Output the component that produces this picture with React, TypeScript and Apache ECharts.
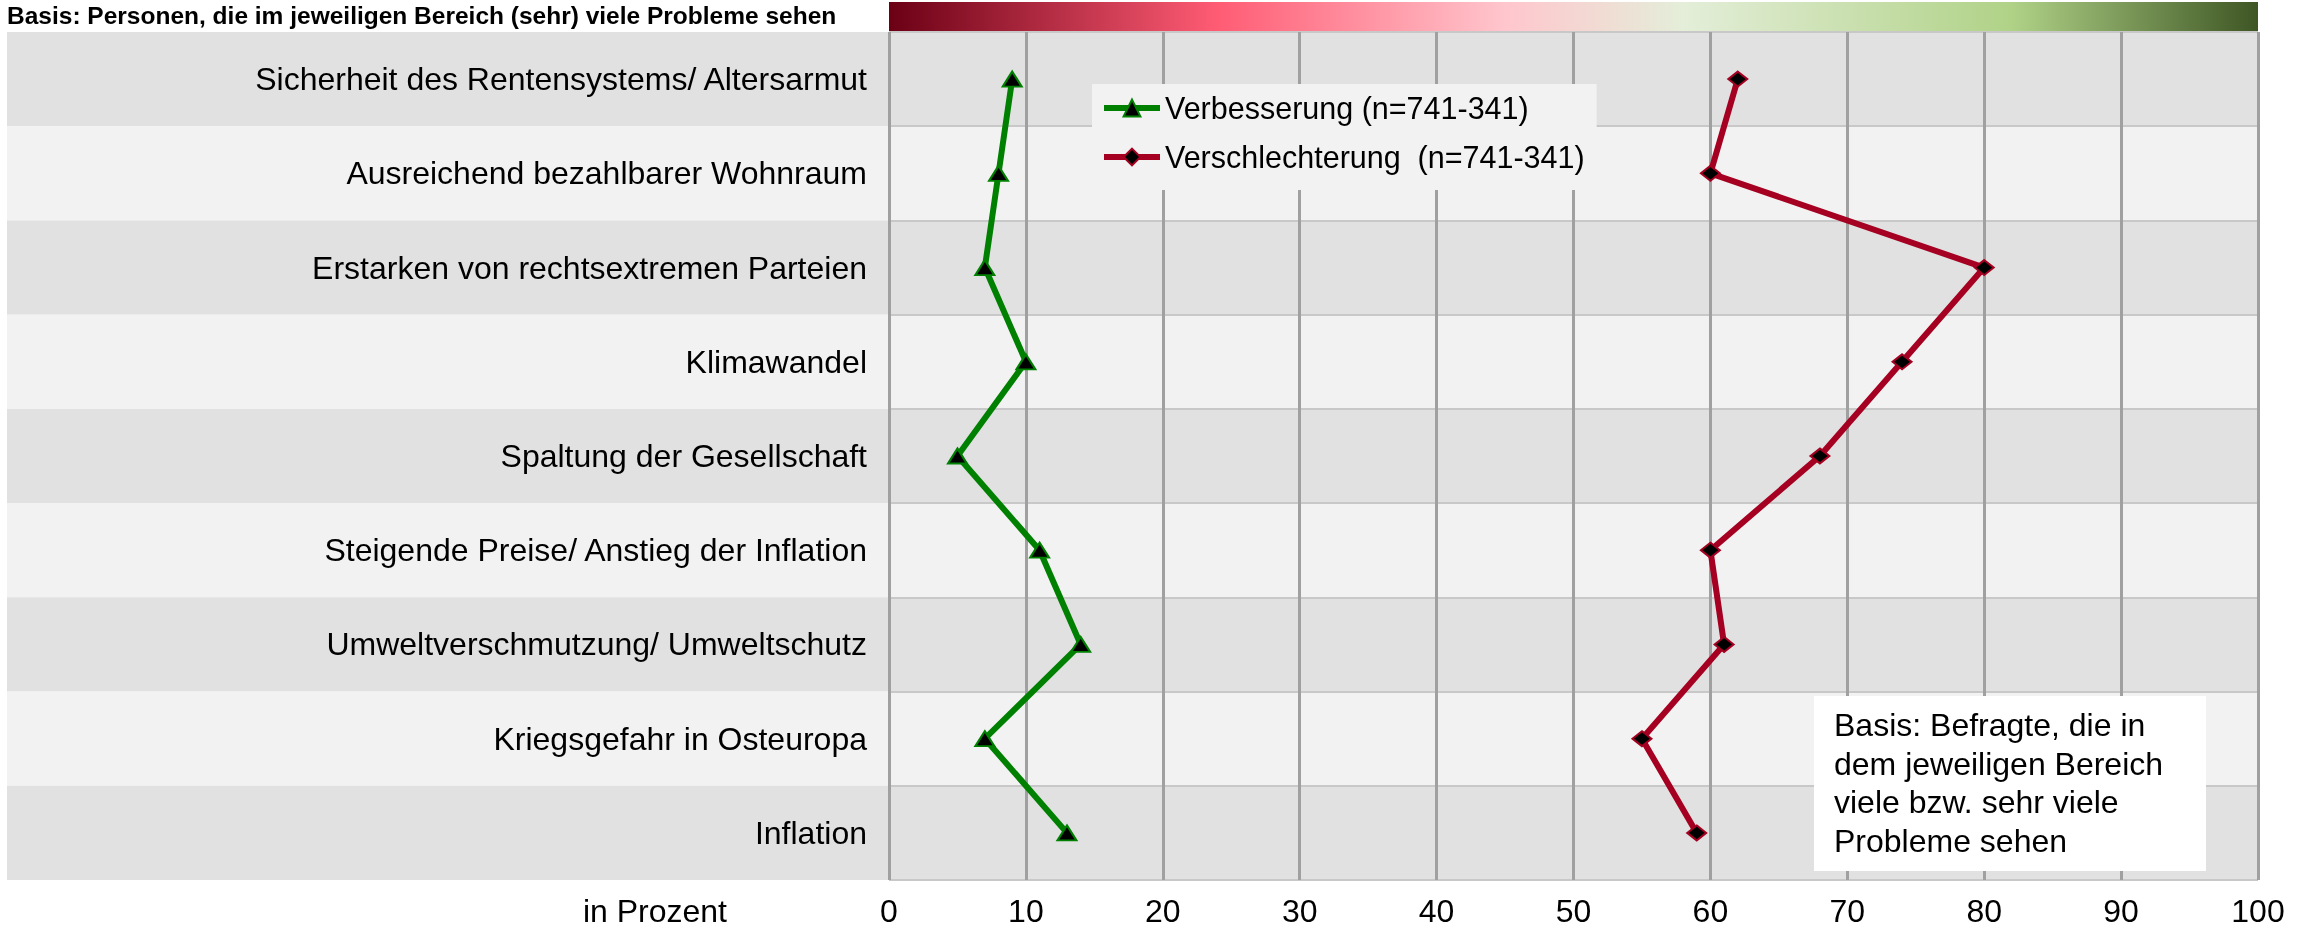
import React, { useEffect, useRef } from "react";
import * as echarts from "echarts";

const categories = [
  "Sicherheit des Rentensystems/ Altersarmut",
  "Ausreichend bezahlbarer Wohnraum",
  "Erstarken von rechtsextremen Parteien",
  "Klimawandel",
  "Spaltung der Gesellschaft",
  "Steigende Preise/ Anstieg der Inflation",
  "Umweltverschmutzung/ Umweltschutz",
  "Kriegsgefahr in Osteuropa",
  "Inflation",
];

const verbesserung = [9, 8, 7, 10, 5, 11, 14, 7, 13];
const verschlechterung = [62, 60, 80, 74, 68, 60, 61, 55, 59];

const seriesNames = ["Verbesserung (n=741-341)", "Verschlechterung  (n=741-341)"];

const headerText = "Basis: Personen, die im jeweiligen Bereich (sehr) viele Probleme sehen";
const axisTitle = "in Prozent";
const noteText = "Basis: Befragte, die in\ndem jeweiligen Bereich\nviele bzw. sehr viele\nProbleme sehen";

const FONT = "'Liberation Sans', Arial, sans-serif";
const BAND_COLORS = ["#e0e1e0", "#f2f2f2"];
const GREEN = "#008000";
const RED = "#a50021";

export default function App() {
  const ref = useRef<HTMLDivElement>(null);

  useEffect(() => {
    if (!ref.current) return;
    const chart = echarts.init(ref.current, null, { renderer: "svg" });

    const option: any = {
      animation: false,
      textStyle: { fontFamily: FONT },
      grid: [
        { left: 7, right: 2313 - 889, top: 32, bottom: 52, show: false },
        { left: 889, right: 55, top: 32, bottom: 52, show: false },
      ],
      xAxis: [
        {
          gridIndex: 0,
          type: "value",
          min: 0,
          max: 1,
          show: false,
        },
        {
          gridIndex: 1,
          type: "value",
          min: 0,
          max: 100,
          interval: 10,
          z: 2,
          axisLine: { show: false },
          axisTick: { show: false },
          splitLine: { show: true, lineStyle: { color: "#a0a0a0", width: 3 } },
          axisLabel: {
            fontSize: 32,
            color: "#000",
            margin: 15,
            fontFamily: FONT,
          },
        },
      ],
      yAxis: [
        {
          gridIndex: 0,
          type: "category",
          data: categories,
          inverse: true,
          z: 0,
          axisLine: { show: false },
          axisTick: { show: false },
          axisLabel: { show: false },
          splitLine: { show: false },
          splitArea: { show: true, areaStyle: { color: BAND_COLORS } },
        },
        {
          gridIndex: 1,
          type: "category",
          data: categories,
          inverse: true,
          z: 0,
          axisLine: { show: false },
          axisTick: { show: false },
          axisLabel: {
            fontSize: 32,
            color: "#000",
            margin: 22,
            fontFamily: FONT,
          },
          splitLine: { show: true, lineStyle: { color: "#c8c8c8", width: 2 } },
          splitArea: { show: true, areaStyle: { color: BAND_COLORS } },
        },
      ],
      legend: {
        orient: "vertical",
        left: 1092,
        top: 84,
        backgroundColor: "#f2f2f2",
        padding: [7, 12, 16, 9],
        itemGap: 15,
        itemWidth: 56,
        itemHeight: 21,
        lineStyle: { width: 6 },
        textStyle: { fontSize: 30.5, lineHeight: 34, color: "#000", fontFamily: FONT },
        data: [
          {
            name: seriesNames[0],
            lineStyle: { width: 6, color: GREEN },
            itemStyle: { color: "#000", borderColor: GREEN, borderWidth: 2 },
          },
          {
            name: seriesNames[1],
            lineStyle: { width: 6, color: RED },
            itemStyle: { color: "#000", borderColor: RED, borderWidth: 2 },
          },
        ],
      },
      series: [
        {
          name: seriesNames[0],
          type: "line",
          xAxisIndex: 1,
          yAxisIndex: 1,
          data: verbesserung.map((v, i) => [v, categories[i]]),
          symbol: "triangle",
          symbolSize: [19, 15],
          lineStyle: { color: GREEN, width: 6 },
          itemStyle: { color: "#000", borderColor: GREEN, borderWidth: 2 },
          z: 5,
        },
        {
          name: seriesNames[1],
          type: "line",
          xAxisIndex: 1,
          yAxisIndex: 1,
          data: verschlechterung.map((v, i) => [v, categories[i]]),
          symbol: "diamond",
          symbolSize: [19, 15],
          lineStyle: { color: RED, width: 6 },
          itemStyle: { color: "#000", borderColor: RED, borderWidth: 2 },
          z: 5,
        },
      ],
      graphic: [
        {
          type: "text",
          left: 7,
          top: 3,
          style: {
            text: headerText,
            fontSize: 24.5,
            fontWeight: "bold",
            fontFamily: FONT,
            fill: "#000",
          },
        },
        {
          type: "rect",
          shape: { x: 889, y: 2, width: 1369, height: 29 },
          style: {
            fill: new echarts.graphic.LinearGradient(0, 0, 1, 0, [
              { offset: 0, color: "#6b0015" },
              { offset: 0.24, color: "#ff5c74" },
              { offset: 0.45, color: "#ffc6cd" },
              { offset: 0.58, color: "#e4eed9" },
              { offset: 0.82, color: "#b0d287" },
              { offset: 1, color: "#3e5624" },
            ]),
          },
        },
        {
          type: "text",
          x: 727,
          y: 911,
          style: {
            text: axisTitle,
            fontSize: 32,
            fontFamily: FONT,
            fill: "#000",
            textAlign: "right",
            textVerticalAlign: "middle",
          },
        },
        {
          type: "rect",
          z: 10,
          shape: { x: 1814, y: 696, width: 392, height: 175 },
          style: { fill: "#ffffff" },
        },
        {
          type: "text",
          z: 11,
          x: 1834,
          y: 706,
          style: {
            text: noteText,
            fontSize: 32,
            lineHeight: 38.5,
            fontFamily: FONT,
            fill: "#000",
            textVerticalAlign: "top",
          },
        },
      ],
    };

    chart.setOption(option);
    return () => chart.dispose();
  }, []);

  return (
    <div
      ref={ref}
      style={{ position: "fixed", left: 0, top: 0, width: 2313, height: 932 }}
    />
  );
}
